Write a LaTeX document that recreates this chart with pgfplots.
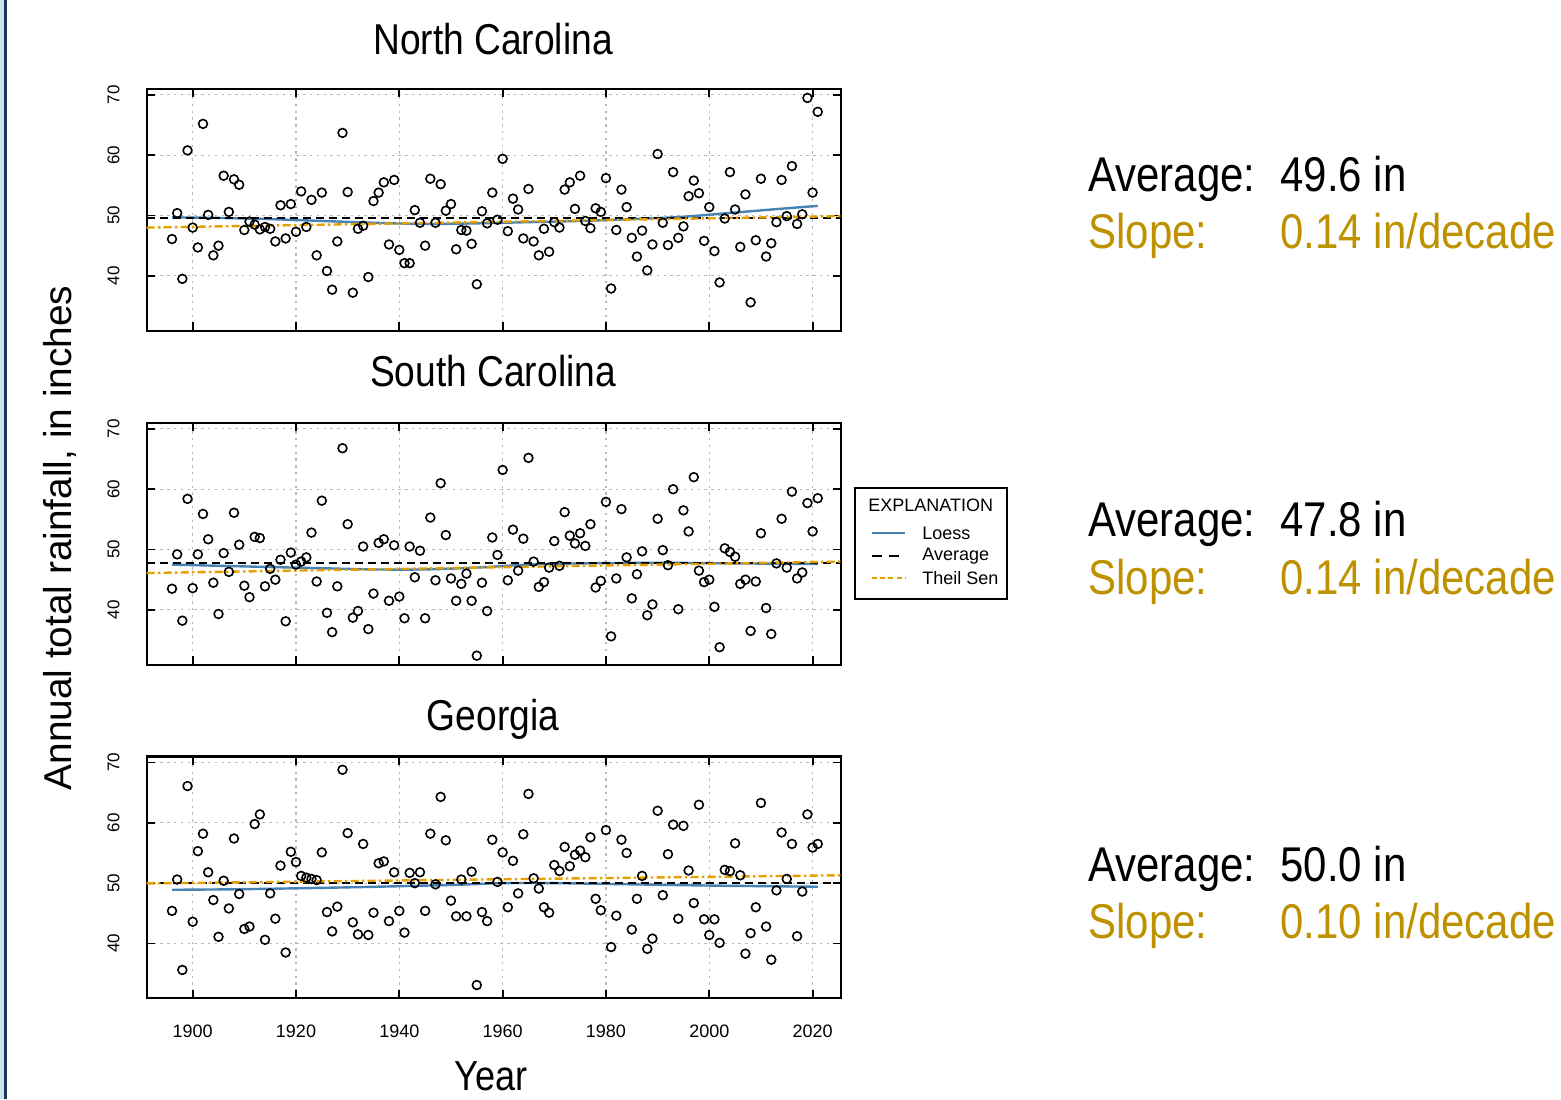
\documentclass[border=0pt]{standalone}
\usepackage{pgfplots}
\pgfplotsset{compat=1.18}
\usepackage{fontspec}
\setmainfont{Liberation Sans}
\newfontfamily\cond[FakeStretch=0.86]{Liberation Sans}
\definecolor{loess}{RGB}{70,130,180}
\definecolor{theil}{RGB}{230,159,0}
\definecolor{slopecol}{RGB}{190,145,0}
\definecolor{navyb}{RGB}{30,50,90}
\definecolor{lcyan}{RGB}{195,228,232}

\pgfplotsset{
  panel/.style={
    scale only axis, width=347.15pt, height=120.9pt,
    xmin=1891.1, xmax=2025.5, ymin=30.9, ymax=71.0,
    xtick={1900,1920,1940,1960,1980,2000,2020},
    ytick={40,50,60,70},
    grid=major,
    grid style={gray!55, dash pattern=on 1.2pt off 2.2pt, line width=0.55pt},
    axis line style={line width=1.05pt},
    major tick style={black, line width=0.9pt},
    major tick length=4.2pt,
    tick align=inside,
    /pgf/number format/assume math mode=true,
    yticklabel style={rotate=90, anchor=south, font=\fontsize{8.5pt}{10pt}\selectfont},
    yticklabel shift=10pt,
    xticklabel style={font=\fontsize{9pt}{10pt}\selectfont},
    xticklabel shift=10pt,
    anchor=south west,
  },
  pts/.style={only marks, mark=o, mark size=2.2pt, mark options={line width=0.8pt, black}},
  lo/.style={loess, line width=1.2pt, smooth, no marks},
  avg/.style={black, line width=1pt, dash pattern=on 4pt off 2.5pt, no marks},
  ts/.style={theil, line width=1.2pt, dash pattern=on 4pt off 1.6pt on 1.3pt off 1.6pt, no marks},
}

\begin{document}
\begin{tikzpicture}
\useasboundingbox (0,0) rectangle (780.5pt,549.5pt);
\fill[lcyan] (0,0) rectangle (2pt,549.5pt);
\draw[navyb, line width=1.4pt] (2.9pt,0) -- (2.9pt,549.5pt);

% ---------------- North Carolina ----------------
\begin{axis}[panel, at={(73.35pt,384.15pt)}, xticklabels={}]
\addplot[pts] table {
x y
1896 46.1
1897 50.4
1898 39.5
1899 60.8
1900 48.0
1901 44.7
1902 65.2
1903 50.1
1904 43.4
1905 45.0
1906 56.6
1907 50.6
1908 56.0
1909 55.1
1910 47.6
1911 49.0
1912 48.5
1913 47.7
1914 48.1
1915 47.8
1916 45.7
1917 51.7
1918 46.2
1919 51.9
1920 47.3
1921 54.0
1922 48.1
1923 52.6
1924 43.4
1925 53.8
1926 40.8
1927 37.7
1928 45.7
1929 63.7
1930 53.9
1931 37.2
1932 47.8
1933 48.3
1934 39.8
1935 52.4
1936 53.8
1937 55.5
1938 45.2
1939 55.9
1940 44.3
1941 42.1
1942 42.1
1943 50.9
1944 48.8
1945 45.0
1946 56.1
1947 48.8
1948 55.2
1949 50.8
1950 51.9
1951 44.4
1952 47.6
1953 47.5
1954 45.3
1955 38.6
1956 50.7
1957 48.7
1958 53.8
1959 49.3
1960 59.4
1961 47.4
1962 52.8
1963 51.0
1964 46.2
1965 54.4
1966 45.7
1967 43.4
1968 47.8
1969 44.0
1970 48.9
1971 48.0
1972 54.3
1973 55.5
1974 51.1
1975 56.6
1976 49.1
1977 47.9
1978 51.2
1979 50.6
1980 56.2
1981 37.9
1982 47.6
1983 54.3
1984 51.4
1985 46.3
1986 43.2
1987 47.5
1988 40.9
1989 45.2
1990 60.2
1991 48.8
1992 45.1
1993 57.2
1994 46.3
1995 48.2
1996 53.2
1997 55.8
1998 53.7
1999 45.8
2000 51.4
2001 44.1
2002 38.9
2003 49.5
2004 57.2
2005 51.0
2006 44.8
2007 53.5
2008 35.6
2009 45.9
2010 56.1
2011 43.2
2012 45.4
2013 48.9
2014 55.9
2015 49.9
2016 58.2
2017 48.6
2018 50.2
2019 69.5
2020 53.8
2021 67.2
};
\addplot[lo] coordinates {(1896,49.7) (1905,49.6) (1915,49.4) (1925,49.1) (1935,48.8) (1945,48.6) (1955,48.7) (1965,48.9) (1975,49.1) (1985,49.4) (1995,49.8) (2005,50.5) (2015,51.2) (2021,51.6)};
\addplot[avg] coordinates {(1891.1,49.6) (2025.5,49.6)};
\addplot[ts] coordinates {(1891.1,48.0) (2025.5,49.9)};
\end{axis}

% ---------------- South Carolina ----------------
\begin{axis}[panel, at={(73.35pt,217.15pt)}, xticklabels={}]
\addplot[pts] table {
x y
1896 43.5
1897 49.2
1898 38.2
1899 58.4
1900 43.6
1901 49.2
1902 55.9
1903 51.7
1904 44.5
1905 39.3
1906 49.4
1907 46.3
1908 56.1
1909 50.8
1910 44.0
1911 42.1
1912 52.1
1913 51.9
1914 43.9
1915 46.8
1916 45.0
1917 48.3
1918 38.1
1919 49.5
1920 47.5
1921 48.0
1922 48.7
1923 52.8
1924 44.7
1925 58.1
1926 39.5
1927 36.3
1928 43.9
1929 66.8
1930 54.2
1931 38.7
1932 39.8
1933 50.5
1934 36.8
1935 42.7
1936 51.1
1937 51.7
1938 41.5
1939 50.7
1940 42.2
1941 38.6
1942 50.5
1943 45.4
1944 49.8
1945 38.6
1946 55.3
1947 44.9
1948 61.0
1949 52.4
1950 45.2
1951 41.5
1952 44.3
1953 46.0
1954 41.5
1955 32.4
1956 44.5
1957 39.8
1958 52.0
1959 49.1
1960 63.2
1961 44.9
1962 53.3
1963 46.5
1964 51.8
1965 65.2
1966 48.0
1967 43.8
1968 44.6
1969 47.0
1970 51.4
1971 47.3
1972 56.2
1973 52.3
1974 51.0
1975 52.7
1976 50.6
1977 54.2
1978 43.7
1979 44.8
1980 57.9
1981 35.6
1982 45.2
1983 56.7
1984 48.7
1985 41.9
1986 45.9
1987 49.7
1988 39.1
1989 40.9
1990 55.1
1991 49.9
1992 47.4
1993 60.0
1994 40.1
1995 56.5
1996 53.0
1997 62.0
1998 46.5
1999 44.6
2000 45.0
2001 40.5
2002 33.8
2003 50.2
2004 49.6
2005 48.8
2006 44.3
2007 45.0
2008 36.5
2009 44.7
2010 52.7
2011 40.3
2012 36.0
2013 47.7
2014 55.1
2015 47.0
2016 59.6
2017 45.2
2018 46.2
2019 57.7
2020 53.0
2021 58.5
};
\addplot[lo] coordinates {(1896,47.5) (1910,47.2) (1925,46.9) (1935,46.7) (1945,46.7) (1955,47.0) (1965,47.5) (1975,47.7) (1990,47.8) (2005,47.7) (2021,47.6)};
\addplot[avg] coordinates {(1891.1,47.8) (2025.5,47.8)};
\addplot[ts] coordinates {(1891.1,46.1) (2025.5,48.0)};
\end{axis}

% ---------------- Georgia ----------------
\begin{axis}[panel, at={(73.35pt,50.35pt)},
  xticklabels={1900,1920,1940,1960,1980,2000,2020}]
\addplot[pts] table {
x y
1896 45.4
1897 50.6
1898 35.6
1899 66.1
1900 43.6
1901 55.3
1902 58.2
1903 51.8
1904 47.2
1905 41.1
1906 50.4
1907 45.8
1908 57.4
1909 48.2
1910 42.4
1911 42.8
1912 59.8
1913 61.4
1914 40.6
1915 48.3
1916 44.1
1917 52.9
1918 38.5
1919 55.2
1920 53.5
1921 51.2
1922 50.9
1923 50.7
1924 50.5
1925 55.1
1926 45.2
1927 42.0
1928 46.1
1929 68.8
1930 58.3
1931 43.5
1932 41.5
1933 56.5
1934 41.4
1935 45.1
1936 53.3
1937 53.6
1938 43.7
1939 51.8
1940 45.4
1941 41.8
1942 51.7
1943 50.0
1944 51.8
1945 45.4
1946 58.2
1947 49.8
1948 64.3
1949 57.1
1950 47.1
1951 44.5
1952 50.6
1953 44.5
1954 51.9
1955 33.1
1956 45.2
1957 43.7
1958 57.2
1959 50.2
1960 55.1
1961 46.0
1962 53.7
1963 48.3
1964 58.1
1965 64.8
1966 50.8
1967 49.1
1968 46.0
1969 45.1
1970 53.0
1971 52.0
1972 56.0
1973 52.8
1974 54.7
1975 55.4
1976 54.3
1977 57.6
1978 47.4
1979 45.5
1980 58.8
1981 39.4
1982 44.6
1983 57.2
1984 55.0
1985 42.3
1986 47.4
1987 51.2
1988 39.1
1989 40.8
1990 62.0
1991 48.0
1992 54.8
1993 59.7
1994 44.1
1995 59.5
1996 52.1
1997 46.7
1998 63.0
1999 44.0
2000 41.4
2001 44.0
2002 40.1
2003 52.2
2004 52.0
2005 56.6
2006 51.3
2007 38.3
2008 41.7
2009 46.0
2010 63.3
2011 42.8
2012 37.3
2013 48.8
2014 58.4
2015 50.7
2016 56.5
2017 41.2
2018 48.6
2019 61.4
2020 55.9
2021 56.5
};
\addplot[lo] coordinates {(1896,48.9) (1910,49.0) (1930,49.3) (1950,49.7) (1960,50.0) (1970,50.0) (1985,49.8) (2000,49.6) (2021,49.4)};
\addplot[avg] coordinates {(1891.1,50.0) (2025.5,50.0)};
\addplot[ts] coordinates {(1891.1,49.95) (2025.5,51.3)};
\end{axis}

% ---------------- titles and labels ----------------
\node[anchor=base, font=\cond\fontsize{21.6pt}{24pt}\selectfont] at (246.5pt,522pt) {North Carolina};
\node[anchor=base, font=\cond\fontsize{21.6pt}{24pt}\selectfont] at (246.5pt,356pt) {South Carolina};
\node[anchor=base, font=\cond\fontsize{21.6pt}{24pt}\selectfont] at (246.5pt,184.5pt) {Georgia};
\node[anchor=base, font=\cond\fontsize{21pt}{24pt}\selectfont] at (245.5pt,4.5pt) {Year};
\node[rotate=90, font=\fontsize{19.4pt}{22pt}\selectfont] at (30pt,280.5pt) {Annual total rainfall, in inches};

% ---------------- right-hand summaries ----------------
\begin{scope}[every node/.style={anchor=base west, inner sep=0pt, font=\cond\fontsize{24.4pt}{28pt}\selectfont}]
\node at (544pt,453.75pt) {Average:};
\node at (640pt,453.75pt) {49.6 in};
\node[text=slopecol] at (544pt,425.25pt) {Slope:};
\node[text=slopecol] at (640pt,425.25pt) {0.14 in/decade};
\node at (544pt,281.25pt) {Average:};
\node at (640pt,281.25pt) {47.8 in};
\node[text=slopecol] at (544pt,252.25pt) {Slope:};
\node[text=slopecol] at (640pt,252.25pt) {0.14 in/decade};
\node at (544pt,108.75pt) {Average:};
\node at (640pt,108.75pt) {50.0 in};
\node[text=slopecol] at (544pt,80.25pt) {Slope:};
\node[text=slopecol] at (640pt,80.25pt) {0.10 in/decade};
\end{scope}

% ---------------- explanation box ----------------
\draw[black, line width=0.6pt] (427.5pt,250pt) rectangle (503.5pt,305.5pt);
\node[anchor=west, inner sep=0pt, font=\fontsize{9pt}{10pt}\selectfont] at (434pt,297pt) {EXPLANATION};
\draw[loess, line width=1pt] (436pt,283pt) -- (452.5pt,283pt);
\draw[black, line width=0.9pt, dash pattern=on 5pt off 3.5pt] (436pt,271.5pt) -- (452.5pt,271.5pt);
\draw[theil, line width=0.9pt, dash pattern=on 2.5pt off 1.6pt on 2.5pt off 1.6pt] (436pt,260.5pt) -- (452.5pt,260.5pt);
\node[anchor=west, inner sep=0pt, font=\fontsize{9pt}{10pt}\selectfont] at (461pt,283pt) {Loess};
\node[anchor=west, inner sep=0pt, font=\fontsize{9pt}{10pt}\selectfont] at (461pt,271.5pt) {Average};
\node[anchor=west, inner sep=0pt, font=\fontsize{9pt}{10pt}\selectfont] at (461pt,260.5pt) {Theil Sen};
\end{tikzpicture}
\end{document}
